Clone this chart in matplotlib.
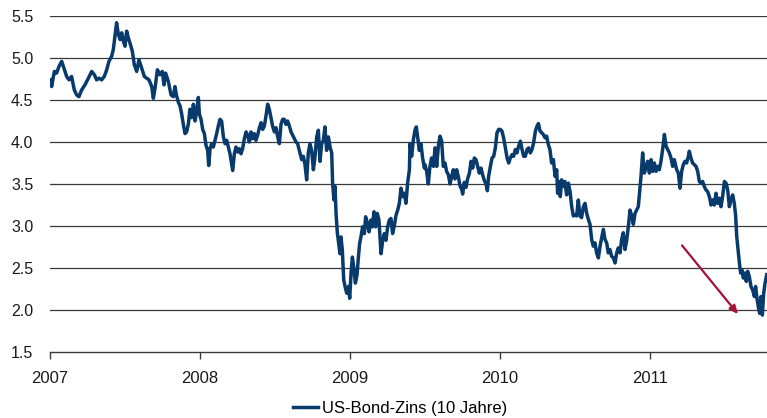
import numpy as np
import matplotlib
matplotlib.use("Agg")
from matplotlib import pyplot as plt

# ---------------------------------- DATA ----------------------------------
# 10y US treasury yield (decimal year, percent)
years = [
    2007.000, 2007.011, 2007.029, 2007.044, 2007.060, 2007.078, 2007.093, 2007.111,
    2007.127, 2007.144, 2007.162, 2007.178, 2007.193, 2007.211, 2007.233, 2007.256,
    2007.278, 2007.296, 2007.311, 2007.327, 2007.344, 2007.362, 2007.378, 2007.393,
    2007.411, 2007.422, 2007.433, 2007.444, 2007.456, 2007.467, 2007.478, 2007.489,
    2007.500, 2007.511, 2007.522, 2007.533, 2007.549, 2007.562, 2007.578, 2007.593,
    2007.611, 2007.629, 2007.644, 2007.660, 2007.678, 2007.689, 2007.700, 2007.716,
    2007.733, 2007.749, 2007.760, 2007.771, 2007.789, 2007.807, 2007.822, 2007.833,
    2007.844, 2007.856, 2007.867, 2007.878, 2007.889, 2007.900, 2007.911, 2007.922,
    2007.933, 2007.944, 2007.956, 2007.967, 2007.978, 2007.989, 2007.996, 2008.007,
    2008.018, 2008.029, 2008.040, 2008.051, 2008.058, 2008.067, 2008.078, 2008.089,
    2008.100, 2008.111, 2008.122, 2008.133, 2008.144, 2008.156, 2008.167, 2008.178,
    2008.189, 2008.200, 2008.211, 2008.218, 2008.229, 2008.240, 2008.251, 2008.262,
    2008.273, 2008.284, 2008.296, 2008.307, 2008.318, 2008.329, 2008.340, 2008.351,
    2008.362, 2008.373, 2008.384, 2008.396, 2008.407, 2008.418, 2008.429, 2008.440,
    2008.451, 2008.462, 2008.473, 2008.484, 2008.496, 2008.507, 2008.518, 2008.529,
    2008.540, 2008.551, 2008.562, 2008.573, 2008.584, 2008.596, 2008.607, 2008.618,
    2008.629, 2008.640, 2008.651, 2008.662,
    2008.678, 2008.689, 2008.700, 2008.711, 2008.722, 2008.733, 2008.744, 2008.756,
    2008.767, 2008.778, 2008.789, 2008.800, 2008.811, 2008.822, 2008.833, 2008.844,
    2008.856, 2008.867, 2008.878, 2008.884, 2008.893, 2008.900, 2008.907, 2008.916,
    2008.922, 2008.933, 2008.940, 2008.949, 2008.958, 2008.967, 2008.978, 2008.989,
    2008.998, 2009.007, 2009.016, 2009.024, 2009.036, 2009.047, 2009.056, 2009.064,
    2009.073, 2009.084, 2009.096, 2009.104, 2009.116, 2009.127, 2009.138, 2009.149,
    2009.160, 2009.171, 2009.182, 2009.193, 2009.207, 2009.218, 2009.229, 2009.240,
    2009.251, 2009.262, 2009.273, 2009.284, 2009.296, 2009.307, 2009.318, 2009.329,
    2009.340, 2009.351, 2009.362, 2009.373, 2009.384, 2009.396, 2009.400, 2009.411,
    2009.422, 2009.433, 2009.442, 2009.451, 2009.462, 2009.473, 2009.484, 2009.496,
    2009.500,
    2009.511, 2009.522, 2009.533, 2009.544, 2009.556, 2009.567, 2009.578, 2009.589,
    2009.600, 2009.611, 2009.622, 2009.633, 2009.644, 2009.656, 2009.667, 2009.678,
    2009.689, 2009.700, 2009.711, 2009.722, 2009.733, 2009.744, 2009.751, 2009.762,
    2009.773, 2009.784, 2009.796, 2009.807, 2009.818, 2009.829, 2009.840, 2009.851,
    2009.862, 2009.873, 2009.884, 2009.896, 2009.907, 2009.916, 2009.924, 2009.936,
    2009.947, 2009.958, 2009.969, 2009.980, 2009.991, 2010.002, 2010.013, 2010.024,
    2010.036, 2010.047, 2010.058, 2010.069, 2010.080, 2010.091, 2010.102, 2010.113,
    2010.124, 2010.136, 2010.147, 2010.158, 2010.169, 2010.180, 2010.191, 2010.202,
    2010.213, 2010.224, 2010.236, 2010.247, 2010.256, 2010.267, 2010.278, 2010.289,
    2010.300, 2010.311, 2010.322, 2010.333,
    2010.344, 2010.356, 2010.367, 2010.378, 2010.384, 2010.393, 2010.402, 2010.411,
    2010.422, 2010.433, 2010.444, 2010.456, 2010.467, 2010.478, 2010.489, 2010.500,
    2010.511, 2010.522, 2010.533, 2010.544, 2010.556, 2010.567, 2010.578, 2010.589,
    2010.600, 2010.611, 2010.622, 2010.633, 2010.644, 2010.656, 2010.667, 2010.678,
    2010.689, 2010.700, 2010.711, 2010.722, 2010.733, 2010.744, 2010.756, 2010.767,
    2010.778, 2010.789, 2010.800, 2010.811, 2010.822, 2010.833, 2010.844, 2010.856,
    2010.867, 2010.878, 2010.889, 2010.900, 2010.911, 2010.922, 2010.933, 2010.940,
    2010.951, 2010.962, 2010.973, 2010.984, 2010.996, 2011.007, 2011.018, 2011.029,
    2011.040, 2011.051, 2011.062, 2011.073, 2011.084, 2011.096, 2011.107, 2011.118,
    2011.129, 2011.140, 2011.151, 2011.162,
    2011.167, 2011.178, 2011.189, 2011.200, 2011.211, 2011.222, 2011.233, 2011.244,
    2011.256, 2011.262, 2011.273, 2011.284, 2011.296, 2011.307, 2011.318, 2011.329,
    2011.340, 2011.351, 2011.362, 2011.373, 2011.384, 2011.396, 2011.407, 2011.418,
    2011.429, 2011.440, 2011.451, 2011.462, 2011.473, 2011.484, 2011.496, 2011.507,
    2011.518, 2011.529, 2011.540, 2011.551, 2011.562, 2011.571, 2011.578, 2011.587,
    2011.596, 2011.604, 2011.613, 2011.622, 2011.633, 2011.642, 2011.651, 2011.662,
    2011.673, 2011.684, 2011.696, 2011.704, 2011.713, 2011.722, 2011.731, 2011.740,
    2011.749, 2011.758, 2011.767, 2011.778,
]
yields = [
    4.74, 4.66, 4.84, 4.82, 4.90, 4.96, 4.88, 4.78,
    4.74, 4.78, 4.62, 4.56, 4.54, 4.62, 4.68, 4.76,
    4.84, 4.80, 4.74, 4.76, 4.74, 4.78, 4.86, 4.96,
    5.02, 5.10, 5.26, 5.42, 5.28, 5.22, 5.30, 5.20,
    5.14, 5.32, 5.24, 5.18, 5.08, 4.92, 4.84, 4.98,
    4.88, 4.78, 4.76, 4.74, 4.66, 4.52, 4.64, 4.86,
    4.80, 4.84, 4.68, 4.82, 4.72, 4.56, 4.54, 4.66,
    4.55, 4.47, 4.43, 4.33, 4.21, 4.10, 4.12, 4.21,
    4.39, 4.29, 4.45, 4.25, 4.37, 4.53, 4.33, 4.27,
    4.15, 4.10, 3.96, 3.90, 3.72, 3.92, 3.98, 3.94,
    4.02, 4.10, 4.19, 4.27, 4.25, 4.06, 3.98, 4.02,
    3.94, 3.86, 3.74, 3.66, 3.86, 3.94, 3.88, 3.92,
    3.86, 3.92, 4.04, 4.12, 4.08, 4.00, 4.12, 4.04,
    4.10, 4.02, 4.08, 4.17, 4.23, 4.15, 4.19, 4.31,
    4.45, 4.39, 4.29, 4.19, 4.12, 4.17, 4.06, 3.98,
    4.21, 4.27, 4.27, 4.21, 4.25, 4.19, 4.12, 4.08,
    4.04, 4.00, 3.98, 3.90,
    3.79, 3.83, 3.73, 3.55, 3.87, 3.98, 3.90, 3.67,
    3.83, 4.06, 4.14, 3.77, 3.98, 4.02, 4.18, 3.90,
    4.06, 3.94, 3.87, 3.51, 3.31, 3.47, 3.15, 2.91,
    2.83, 2.67, 2.87, 2.71, 2.36, 2.28, 2.20, 2.28,
    2.14, 2.44, 2.63, 2.52, 2.32, 2.42, 2.63, 2.79,
    2.87, 2.99, 2.91, 3.11, 3.03, 2.93, 3.07, 2.99,
    3.17, 2.99, 3.15, 3.07, 2.67, 2.83, 2.91, 2.83,
    2.99, 3.07, 3.09, 2.91, 3.01, 3.13, 3.19, 3.27,
    3.45, 3.35, 3.39, 3.27, 3.51, 3.67, 3.98, 3.83,
    4.02, 4.14, 4.18, 4.06, 3.90, 3.98, 3.81, 3.69,
    3.73,
    3.65, 3.50, 3.71, 3.81, 3.71, 3.93, 3.71, 3.95,
    4.07, 4.01, 3.71, 3.75, 3.65, 3.61, 3.50, 3.59,
    3.67, 3.56, 3.67, 3.59, 3.48, 3.44, 3.38, 3.52,
    3.46, 3.56, 3.63, 3.77, 3.69, 3.81, 3.79, 3.71,
    3.63, 3.69, 3.61, 3.54, 3.50, 3.42, 3.59, 3.71,
    3.81, 3.83, 3.93, 4.11, 4.15, 4.15, 4.13, 4.05,
    3.93, 3.81, 3.75, 3.81, 3.85, 3.83, 3.91, 3.87,
    3.95, 4.01, 3.91, 3.83, 3.83, 3.91, 3.93, 3.87,
    3.91, 3.99, 4.13, 4.19, 4.22, 4.13, 4.11, 4.09,
    4.05, 4.07, 3.97, 3.91,
    3.75, 3.79, 3.59, 3.67, 3.39, 3.53, 3.35, 3.55,
    3.47, 3.53, 3.37, 3.51, 3.41, 3.23, 3.12, 3.13,
    3.12, 3.31, 3.12, 3.10, 3.23, 3.27, 3.15, 3.08,
    3.02, 2.84, 2.76, 2.80, 2.68, 2.62, 2.76, 2.86,
    2.96, 2.84, 2.80, 2.68, 2.72, 2.64, 2.62, 2.56,
    2.68, 2.74, 2.68, 2.84, 2.92, 2.72, 2.82, 3.00,
    3.19, 3.12, 3.02, 3.15, 3.19, 3.23, 3.45, 3.59,
    3.87, 3.63, 3.69, 3.77, 3.63, 3.79, 3.65, 3.75,
    3.65, 3.71, 3.67, 3.77, 3.91, 4.09, 3.95, 3.91,
    3.87, 3.81, 3.71, 3.79,
    3.75, 3.67, 3.63, 3.45, 3.65, 3.73, 3.77, 3.75,
    3.83, 3.89, 3.81, 3.75, 3.73, 3.71, 3.65, 3.53,
    3.51, 3.53, 3.47, 3.43, 3.41, 3.35, 3.25, 3.31,
    3.25, 3.39, 3.27, 3.33, 3.23, 3.35, 3.53, 3.51,
    3.43, 3.23, 3.31, 3.37, 3.27, 3.12, 2.88, 2.72,
    2.56, 2.44, 2.48, 2.38, 2.44, 2.34, 2.46, 2.40,
    2.28, 2.24, 2.16, 2.28, 2.14, 2.04, 1.96, 2.16,
    1.94, 2.20, 2.32, 2.42,
]
year_ticks = [2007, 2008, 2009, 2010, 2011]
y_ticks = [1.5, 2.0, 2.5, 3.0, 3.5, 4.0, 4.5, 5.0, 5.5]
series_label = "US-Bond-Zins (10 Jahre)"

# red arrow (start -> end) in data units
arrow_start = (2011.213, 2.77)
arrow_end = (2011.587, 1.95)

# ---------------------------------- PLOT ----------------------------------
years = np.array(years)
yields = np.array(yields)

plt.rcParams["font.family"] = ["Liberation Sans", "DejaVu Sans"]

fig = plt.figure(figsize=(7.67, 4.18), dpi=100)
ax = fig.add_axes([50 / 767, 1 - 352 / 418, 717 / 767, 336 / 418])

for yv in y_ticks[1:]:
    ax.axhline(yv, color="#3a3a3a", lw=0.9, zorder=1)

ax.plot(years, yields, color="#083a6c", lw=2.5, label=series_label, zorder=3,
        solid_joinstyle="round")

ax.annotate("", xy=arrow_end, xytext=arrow_start,
            arrowprops=dict(arrowstyle="-|>,head_length=0.5,head_width=0.22",
                            color="#a3123a", lw=1.6, shrinkA=0, shrinkB=0),
            zorder=4)

ax.set_xlim(2007, 2007 + 717 / 150)
ax.set_ylim(1.5, 5.5)
ax.set_xticks(year_ticks)
ax.set_xticklabels([str(y) for y in year_ticks])
ax.set_yticks(y_ticks)
ax.set_yticklabels([f"{v:.1f}" for v in y_ticks])

for side in ["left", "right", "top"]:
    ax.spines[side].set_visible(False)
ax.spines["bottom"].set_color("#3a3a3a")
ax.spines["bottom"].set_linewidth(1.0)

ax.tick_params(axis="y", length=0, pad=12, labelsize=11.5, colors="#1a1a1a")
ax.tick_params(axis="x", length=5, width=1.0, color="#3a3a3a", pad=9,
               labelsize=12, labelcolor="#1a1a1a")

fig.legend(loc="lower center", bbox_to_anchor=(0.522, -0.03), frameon=False,
           fontsize=12, handlelength=1.5, handletextpad=0.25)

fig.savefig("out.png", dpi=100)
